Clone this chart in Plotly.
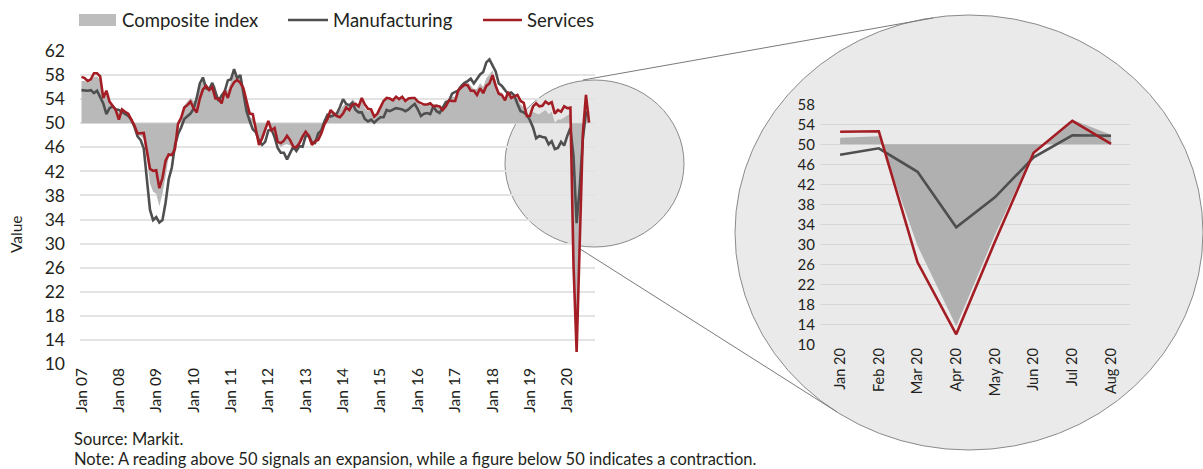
import plotly.graph_objects as go

W, H = 1203, 469

# ---------------- data ----------------
year_tick_labels = ["Jan 07", "Jan 08", "Jan 09", "Jan 10", "Jan 11", "Jan 12", "Jan 13",
                    "Jan 14", "Jan 15", "Jan 16", "Jan 17", "Jan 18", "Jan 19", "Jan 20"]

manufacturing = [
    55.5, 55.4, 55.4, 55.5, 55.0, 55.4, 54.3, 53.3, 51.5, 52.5, 52.8, 52.3,   # 2007
    52.2, 51.9, 51.6, 51.2, 50.6, 49.4, 47.8, 47.2, 45.8, 41.1, 35.6, 33.9,   # 2008
    34.4, 33.5, 33.9, 36.8, 40.7, 42.6, 46.3, 48.2, 49.3, 50.7, 51.2, 51.6,   # 2009
    52.4, 54.2, 56.6, 57.6, 55.8, 55.6, 56.7, 55.1, 53.7, 54.6, 55.3, 57.1,   # 2010
    57.3, 59.0, 57.5, 58.0, 54.6, 52.0, 50.4, 49.0, 48.5, 47.1, 46.4, 46.9,   # 2011
    48.8, 49.0, 47.7, 45.9, 45.1, 45.1, 44.0, 45.1, 46.1, 45.4, 46.2, 46.1,   # 2012
    47.9, 47.9, 46.8, 46.7, 48.3, 48.8, 50.3, 51.4, 51.1, 51.3, 51.6, 52.7,   # 2013
    54.0, 53.2, 53.0, 53.4, 52.2, 51.8, 51.8, 50.7, 50.3, 50.6, 50.1, 50.6,   # 2014
    51.0, 51.0, 52.2, 52.0, 52.2, 52.5, 52.4, 52.3, 52.0, 52.3, 52.8, 53.2,   # 2015
    52.3, 51.2, 51.6, 51.7, 51.5, 52.8, 52.0, 51.7, 52.6, 53.5, 53.7, 54.9,   # 2016
    55.2, 55.4, 56.2, 56.7, 57.0, 57.4, 56.6, 57.4, 58.1, 58.5, 60.1, 60.6,   # 2017
    59.6, 58.6, 56.6, 56.2, 55.5, 54.9, 55.1, 54.6, 53.2, 52.0, 51.8, 51.4,   # 2018
    50.5, 49.3, 47.5, 47.9, 47.7, 47.6, 46.5, 47.0, 45.7, 45.9, 46.9, 46.3,   # 2019
    47.9, 49.2, 44.5, 33.4, 39.4, 47.4, 51.8, 51.7,                           # 2020
]

services = [
    57.7, 57.5, 57.0, 57.3, 58.3, 58.3, 57.8, 54.2, 55.4, 53.6, 52.9, 52.2,   # 2007
    50.6, 52.3, 51.9, 51.6, 50.6, 49.6, 48.3, 48.4, 48.4, 45.4, 42.4, 42.1,   # 2008
    42.2, 39.2, 40.9, 43.8, 44.8, 44.7, 45.7, 49.9, 50.9, 52.6, 53.0, 53.6,   # 2009
    52.5, 51.8, 54.1, 55.6, 56.2, 55.5, 56.0, 54.1, 54.1, 53.3, 55.4, 54.2,   # 2010
    55.9, 56.8, 57.2, 56.7, 55.8, 53.7, 51.6, 51.5, 48.8, 46.4, 47.5, 48.8,   # 2011
    50.4, 48.8, 49.2, 46.9, 46.7, 47.1, 47.9, 47.2, 46.1, 46.0, 46.7, 47.8,   # 2012
    48.6, 47.9, 46.4, 47.0, 47.2, 48.3, 49.8, 50.7, 52.2, 51.6, 51.2, 51.0,   # 2013
    51.6, 52.6, 52.2, 53.1, 53.2, 52.8, 54.2, 53.1, 52.4, 52.3, 51.1, 51.6,   # 2014
    52.7, 53.7, 54.2, 54.1, 53.8, 54.4, 54.0, 54.4, 53.7, 54.1, 54.2, 54.2,   # 2015
    53.6, 53.3, 53.1, 53.1, 53.3, 52.8, 52.9, 52.8, 52.2, 52.8, 53.8, 53.7,   # 2016
    53.7, 55.5, 56.0, 56.4, 56.3, 55.4, 55.4, 54.7, 55.8, 55.0, 56.2, 56.6,   # 2017
    58.0, 56.2, 54.9, 54.7, 53.8, 55.2, 54.2, 54.4, 54.7, 53.7, 53.4, 51.2,   # 2018
    51.2, 52.8, 53.3, 52.8, 52.9, 53.6, 53.2, 53.5, 51.6, 52.2, 51.9, 52.8,   # 2019
    52.5, 52.6, 26.4, 12.0, 30.5, 48.3, 54.7, 50.1,                           # 2020
]

composite = [
    57.0, 57.0, 56.7, 57.0, 57.7, 57.8, 57.2, 54.4, 54.6, 53.7, 53.0, 52.3,   # 2007
    51.8, 52.3, 51.8, 51.4, 50.6, 49.3, 47.9, 47.9, 47.4, 44.3, 40.0, 38.6,   # 2008
    38.3, 36.2, 38.3, 41.1, 44.4, 44.6, 47.0, 50.4, 51.1, 53.0, 53.7, 54.2,   # 2009
    53.7, 53.7, 55.9, 57.3, 56.4, 56.0, 56.7, 56.2, 53.8, 53.8, 55.5, 55.5,   # 2010
    57.0, 58.2, 57.6, 57.8, 55.8, 53.3, 51.1, 50.7, 49.1, 47.1, 47.0, 48.3,   # 2011
    50.4, 49.3, 49.1, 46.7, 46.0, 46.4, 46.5, 46.3, 46.1, 45.7, 46.5, 47.2,   # 2012
    48.6, 47.9, 46.5, 46.9, 47.7, 48.7, 50.5, 51.5, 52.2, 51.9, 51.7, 52.1,   # 2013
    52.9, 53.3, 53.1, 54.0, 53.5, 52.8, 53.8, 52.5, 52.0, 52.1, 51.1, 51.4,   # 2014
    52.6, 53.3, 54.0, 53.9, 53.6, 54.2, 53.9, 54.3, 53.6, 53.9, 54.2, 54.3,   # 2015
    53.6, 53.0, 53.1, 53.0, 53.1, 53.1, 53.2, 52.9, 52.6, 53.3, 53.9, 54.4,   # 2016
    54.4, 56.0, 56.4, 56.8, 56.8, 56.3, 55.7, 55.7, 56.7, 56.0, 57.5, 58.1,   # 2017
    58.8, 57.1, 55.2, 55.1, 54.1, 54.9, 54.3, 54.5, 54.1, 53.1, 52.7, 51.1,   # 2018
    51.0, 51.9, 51.6, 51.5, 51.8, 52.2, 51.5, 51.9, 50.1, 50.6, 50.6, 50.9,   # 2019
    51.3, 51.6, 29.7, 13.6, 31.9, 48.5, 54.9, 51.9,                           # 2020
]

inset_labels = ["Jan 20", "Feb 20", "Mar 20", "Apr 20", "May 20", "Jun 20", "Jul 20", "Aug 20"]
y_ticks_main = [10, 14, 18, 22, 26, 30, 34, 38, 42, 46, 50, 54, 58, 62]
y_ticks_inset = [10, 14, 18, 22, 26, 30, 34, 38, 42, 46, 50, 54, 58]
THRESHOLD = 50

# ---------------- styles ----------------
FONT = "Lato"
TXT = "#231f20"
C_COMP = "#b9b9b9"
C_MAN = "#4f4f4f"
C_SER = "#a31d24"
GRID = "#e3e3e3"
GRID_IN = "#d6d6d6"


def px(x):
    return x / W


def py(y):
    return 1 - y / H


n = len(manufacturing)
months = list(range(n))
k = len(inset_labels)
inset_x = list(range(k))

fig = go.Figure()

# main chart
fig.add_trace(go.Scatter(x=months, y=[THRESHOLD] * n, mode="lines", line=dict(width=0),
                         hoverinfo="skip", showlegend=False, xaxis="x", yaxis="y"))
fig.add_trace(go.Scatter(x=months, y=composite, mode="lines", line=dict(width=0),
                         fill="tonexty", fillcolor=C_COMP, name="Composite index",
                         showlegend=False, xaxis="x", yaxis="y"))
fig.add_trace(go.Scatter(x=months, y=manufacturing, mode="lines",
                         line=dict(color=C_MAN, width=2.6), name="Manufacturing",
                         showlegend=False, xaxis="x", yaxis="y"))
fig.add_trace(go.Scatter(x=months, y=services, mode="lines",
                         line=dict(color=C_SER, width=2.6), name="Services",
                         showlegend=False, xaxis="x", yaxis="y"))

# inset chart
fig.add_trace(go.Scatter(x=inset_x, y=[THRESHOLD] * k, mode="lines", line=dict(width=0),
                         hoverinfo="skip", showlegend=False, xaxis="x2", yaxis="y2"))
fig.add_trace(go.Scatter(x=inset_x, y=composite[-k:], mode="lines", line=dict(width=0),
                         fill="tonexty", fillcolor="#b0b0b0", showlegend=False,
                         xaxis="x2", yaxis="y2"))
fig.add_trace(go.Scatter(x=inset_x, y=manufacturing[-k:], mode="lines",
                         line=dict(color=C_MAN, width=2.6), showlegend=False,
                         xaxis="x2", yaxis="y2"))
fig.add_trace(go.Scatter(x=inset_x, y=services[-k:], mode="lines",
                         line=dict(color=C_SER, width=2.6), showlegend=False,
                         xaxis="x2", yaxis="y2"))

shapes = [
    # small ellipse around 2019-2020
    dict(type="circle", xref="paper", yref="paper", layer="below",
         x0=px(505), x1=px(684), y0=py(247), y1=py(80),
         fillcolor="#e7e7e7", line=dict(color="#8a8a8a", width=1)),
    # big magnified circle
    dict(type="circle", xref="paper", yref="paper", layer="below",
         x0=px(735), x1=px(1203), y0=py(450), y1=py(15),
         fillcolor="#eaeaea", line=dict(color="#8a8a8a", width=1)),
    # connector lines
    dict(type="line", xref="paper", yref="paper", layer="below",
         x0=px(583), y0=py(80), x1=px(933), y1=py(18),
         line=dict(color="#7a7a7a", width=1)),
    dict(type="line", xref="paper", yref="paper", layer="below",
         x0=px(577), y0=py(247), x1=px(837), y1=py(412),
         line=dict(color="#7a7a7a", width=1)),
    # legend swatches
    dict(type="rect", xref="paper", yref="paper",
         x0=px(79), x1=px(116), y0=py(26), y1=py(14),
         fillcolor="#bdbdbd", line=dict(width=0)),
    dict(type="line", xref="paper", yref="paper",
         x0=px(288), x1=px(328), y0=py(20), y1=py(20),
         line=dict(color=C_MAN, width=2.6)),
    dict(type="line", xref="paper", yref="paper",
         x0=px(483), x1=px(522), y0=py(20), y1=py(20),
         line=dict(color=C_SER, width=2.6)),
]

annotations = [
    dict(text="Composite index", x=px(120), y=py(20), xanchor="left", yanchor="middle"),
    dict(text="Manufacturing", x=px(331), y=py(20), xanchor="left", yanchor="middle"),
    dict(text="Services", x=px(525), y=py(20), xanchor="left", yanchor="middle"),
]
annotations = [dict(a, xref="paper", yref="paper", showarrow=False,
                    font=dict(family=FONT, size=18.5, color=TXT)) for a in annotations]
annotations += [
    dict(text="Value", x=px(16), y=py(234), xref="paper", yref="paper", showarrow=False,
         textangle=-90, xanchor="center", yanchor="middle",
         font=dict(family=FONT, size=15.5, color=TXT)),
    dict(text="Source: Markit.", x=px(72), y=py(439), xref="paper", yref="paper",
         showarrow=False, xanchor="left", yanchor="middle",
         font=dict(family=FONT, size=16.5, color=TXT)),
    dict(text="Note: A reading above 50 signals an expansion, while a figure below 50 indicates a contraction.",
         x=px(72), y=py(459), xref="paper", yref="paper",
         showarrow=False, xanchor="left", yanchor="middle",
         font=dict(family=FONT, size=16.5, color=TXT)),
]

fig.update_layout(
    width=W, height=H, autosize=False,
    margin=dict(l=0, r=0, t=0, b=0, pad=0, autoexpand=False),
    paper_bgcolor="white",
    plot_bgcolor="rgba(0,0,0,0)",
    showlegend=False,
    shapes=shapes,
    annotations=annotations,
    xaxis=dict(domain=[px(80), px(595)], range=[-0.48, 164.9],
               tickvals=[12 * i for i in range(len(year_tick_labels))],
               ticktext=year_tick_labels, tickangle=-90,
               showgrid=False, zeroline=False, showline=False, ticks="",
               tickfont=dict(family=FONT, size=15.5, color=TXT)),
    yaxis=dict(domain=[py(364), py(51)], range=[10, 62], tickvals=y_ticks_main,
               showgrid=True, gridcolor=GRID, gridwidth=1.5, zeroline=False,
               showline=False, ticks="", ticklabelstandoff=14,
               tickfont=dict(family=FONT, size=17.5, color=TXT)),
    xaxis2=dict(domain=[px(820), px(1130)], range=[-0.52, 7.49], anchor="y2",
                tickvals=inset_x, ticktext=inset_labels, tickangle=-90,
                showgrid=False, zeroline=False, showline=False, ticks="",
                tickfont=dict(family=FONT, size=14.5, color=TXT)),
    yaxis2=dict(domain=[py(344.3), py(104.3)], range=[10, 58], anchor="x2",
                tickvals=y_ticks_inset,
                showgrid=True, gridcolor=GRID_IN, gridwidth=1.2, zeroline=False,
                showline=False, ticks="", ticklabelstandoff=4,
                tickfont=dict(family=FONT, size=15, color=TXT)),
)

fig.write_html(
    "out.html",
    config={"responsive": False, "displayModeBar": False},
    post_script="document.body.style.margin='0';document.body.style.overflow='hidden';",
)
